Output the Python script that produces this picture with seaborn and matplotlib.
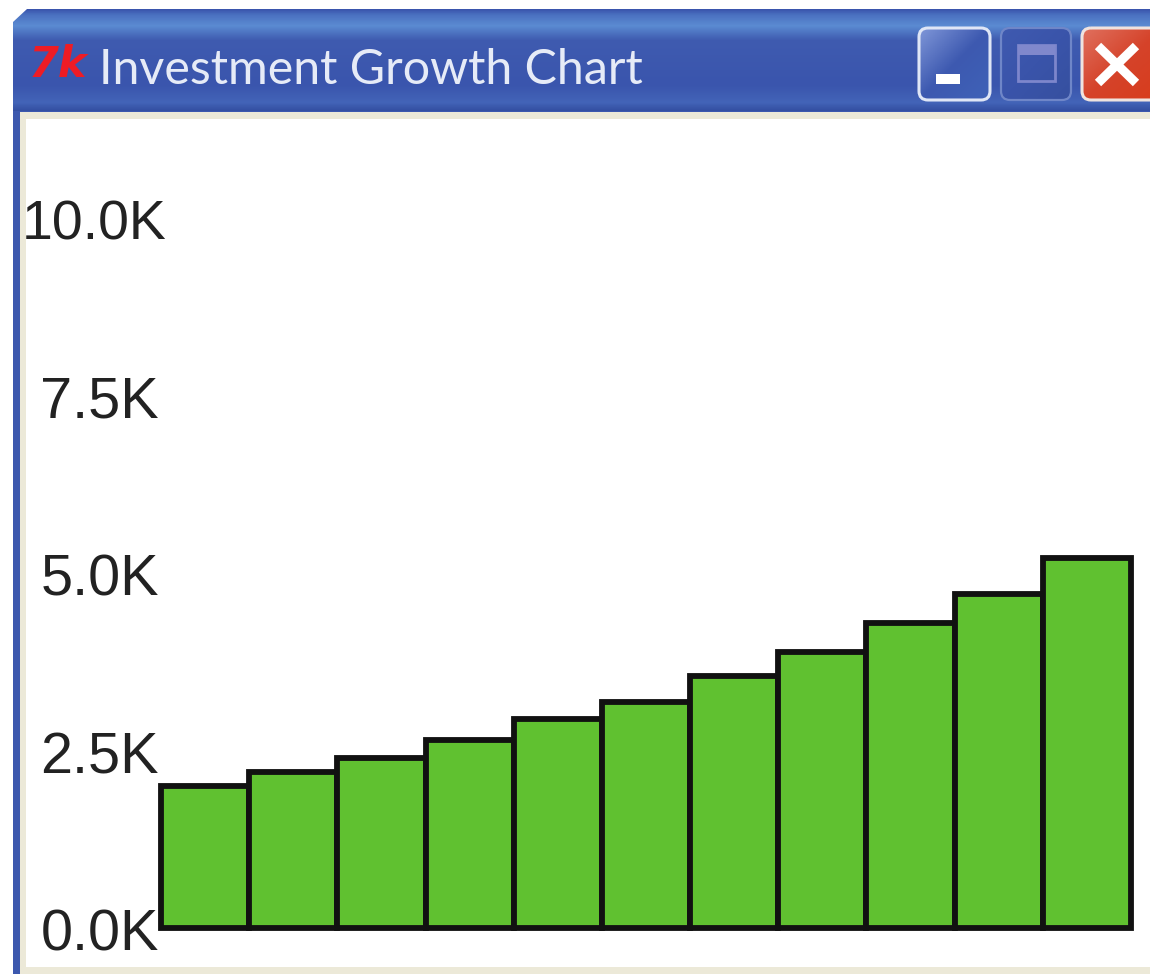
import matplotlib
matplotlib.use("Agg")
import matplotlib.pyplot as plt
from matplotlib.patches import Rectangle, FancyBboxPatch, Polygon
from matplotlib.colors import LinearSegmentedColormap
from matplotlib.transforms import ScaledTranslation
import numpy as np
import pandas as pd
import seaborn as sns

years = [str(i) for i in range(1, 12)]
balances = [2000, 2200, 2400, 2650, 2950, 3190, 3545, 3890, 4300, 4700, 5210]
tick_values = [0, 2500, 5000, 7500, 10000]
tick_labels = ["0.0K", "2.5K", "5.0K", "7.5K", "10.0K"]
window_title = "Investment Growth Chart"
icon_text = "7k"

W, H = 1150, 974
sns.set_theme(style="white")
plt.rcParams["font.family"] = ["Liberation Sans", "DejaVu Sans"]

fig = plt.figure(figsize=(W / 100, H / 100), dpi=100, facecolor="white")

# window chrome, in pixel coordinates of the picture
chrome = fig.add_axes([0, 0, 1, 1], zorder=0)
chrome.axis("off")

chrome.add_patch(Rectangle((13, 30), 1137, 944, fc="#3c58ae", ec="none"))
chrome.add_patch(Rectangle((20, 112), 1130, 862, fc="#ece9d8", ec="none"))
chrome.add_patch(Rectangle((26, 119), 1124, 848, fc="white", ec="none"))

bar_cmap = LinearSegmentedColormap.from_list(
    "bar", [(0, "#3a55ad"), (0.05, "#4a70c0"), (0.16, "#5b8bd2"), (0.3, "#3f5bb0"),
            (0.75, "#3a55ad"), (0.92, "#4364b8"), (1, "#3450a2")])
grad = np.linspace(0, 1, 100).reshape(-1, 1)
chrome.imshow(grad, cmap=bar_cmap, extent=(13, W, 111, 9), aspect="auto", zorder=1)
chrome.set_xlim(0, W)
chrome.set_ylim(H, 0)
chrome.add_patch(Polygon([(13, 9), (27, 9), (13, 22)], fc="white", ec="none", zorder=2))

# title-bar icon, title and buttons
chrome.text(29, 65, icon_text, color="#ee1c25", fontsize=31, fontstyle="oblique", fontweight="bold",
            family="DejaVu Sans", ha="left", va="center", zorder=3)
chrome.text(99, 70, window_title, color="#e6ebf7", fontsize=34.8, family="Lato",
            ha="left", va="center", zorder=3)

def button(x, y, w, h, colors, ec, lw=2.2):
    box = FancyBboxPatch((x, y), w, h, boxstyle="round,pad=0,rounding_size=9",
                         fc="none", ec=ec, lw=lw, zorder=4)
    chrome.add_patch(box)
    cmap = LinearSegmentedColormap.from_list("btn", colors)
    g = np.add.outer(np.linspace(0, 1, 40), np.linspace(0, 1, 40)) / 2
    im = chrome.imshow(g, cmap=cmap, extent=(x, x + w, y + h, y), aspect="auto", zorder=3)
    im.set_clip_path(box)

button(919, 28, 71, 72, ["#7f96d8", "#3d59b0", "#3f62b8"], "#dfe6f6")
chrome.add_patch(Rectangle((936, 74), 24, 10, fc="white", ec="none", zorder=5))
button(1001, 28, 70, 72, ["#3f5ab0", "#3a54aa", "#36509f"], "#6f86c8", lw=1.6)
chrome.add_patch(Rectangle((1018, 45), 37, 36, fc="none", ec="#7d86cc", lw=2.0, zorder=5))
chrome.add_patch(Rectangle((1018, 45), 37, 10, fc="#8088cc", ec="none", zorder=5))
button(1082, 28, 80, 72, ["#e0705e", "#d5432a", "#d83c1c"], "#efe3df")
chrome.plot([1098, 1136], [46, 83], color="white", lw=6.5, zorder=6, solid_capstyle="butt")
chrome.plot([1136, 1098], [46, 83], color="white", lw=6.5, zorder=6, solid_capstyle="butt")
chrome.set_xlim(0, W)
chrome.set_ylim(H, 0)

# chart axes: 0 at y=928 px, 10K at y=218 px, bars from 161 to 1131 px
left, right, bottom_px = 161, 1131, 928
top_px = 119
y_per_px = 10000 / (928 - 218)
ax = fig.add_axes([left / W, 1 - bottom_px / H, (right - left) / W, (bottom_px - top_px) / H],
                  zorder=2)
ax.patch.set_alpha(0)

df = pd.DataFrame({"year": years, "balance": balances})
sns.barplot(data=df, x="year", y="balance", color="#60c130", saturation=1, width=1.0,
            edgecolor="#111111", linewidth=4.2, ax=ax, zorder=3, clip_on=False)
ax.set_xlim(-0.5, len(years) - 0.5)
ax.set_ylim(0, (bottom_px - top_px) * y_per_px)
for s in ax.spines.values():
    s.set_visible(False)
ax.set_xticks([])
ax.set_xlabel("")
ax.set_ylabel("")
ax.set_yticks(tick_values)
ax.set_yticklabels(tick_labels, fontsize=41.5, color="#222222")
ax.tick_params(axis="y", length=0, pad=1.5)
ax.yaxis.get_major_ticks()[-1].set_pad(-4)
ax.yaxis.get_major_ticks()[-1].label1.set_fontsize(40)
down = ScaledTranslation(0, -7.5 / 100, fig.dpi_scale_trans)
for lbl in ax.get_yticklabels():
    lbl.set_verticalalignment("center")
    lbl.set_transform(lbl.get_transform() + down)

fig.savefig("out.png", dpi=100, facecolor="white")
